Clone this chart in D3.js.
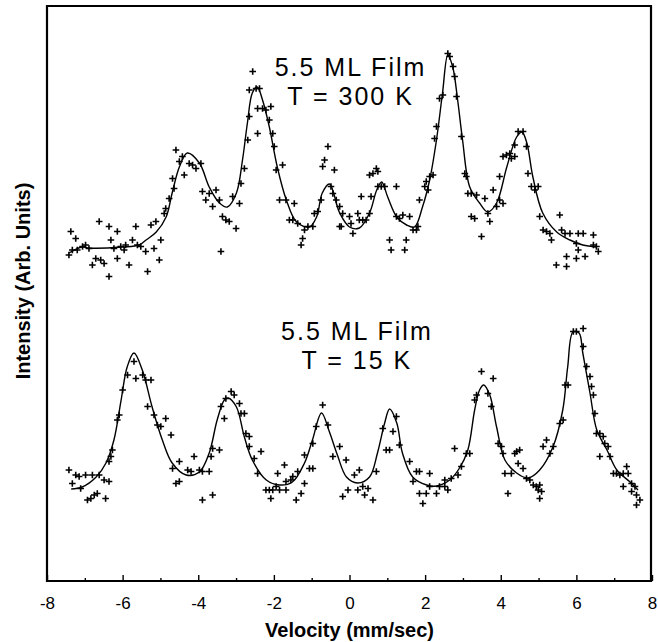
<!DOCTYPE html>
<html>
<head>
<meta charset="utf-8">
<script src="https://cdn.jsdelivr.net/npm/d3@7"></script>
<style>
  html, body { margin: 0; padding: 0; background: #fff; overflow: hidden; }
  svg { display: block; }
  svg text { font-family: "Liberation Sans", Arial, Helvetica, sans-serif; fill: #000; }
</style>
</head>
<body>
<div class="chart"></div>
<script>
// velocity ticks
let xTicksMajor = [-8, -6, -4, -2, 0, 2, 4, 6, 8];
let xTicksMinor = [-7, -5, -3, -1, 1, 3, 5, 7];

// spectrum labels
let upperLabel = ["5.5 ML Film", "T = 300 K"];
let lowerLabel = ["5.5 ML Film", "T = 15 K"];

// fitted curves, [velocity, intensity]
let fit300 = [[-7.42,0.656],[-7.07,0.668],[-6.89,0.666],[-6.01,0.668],[-5.56,0.672],[-5.38,0.682],[-5.11,0.698],
  [-4.85,0.728],[-4.69,0.776],[-4.50,0.828],[-4.29,0.856],[-3.97,0.836],[-3.71,0.788],[-3.44,0.756],[-3.23,0.748],
  [-2.99,0.776],[-2.83,0.842],[-2.70,0.916],[-2.57,0.976],[-2.44,0.988],[-2.30,0.962],[-2.12,0.908],[-1.91,0.828],
  [-1.67,0.762],[-1.40,0.718],[-1.06,0.708],[-0.87,0.728],[-0.72,0.776],[-0.53,0.794],[-0.26,0.736],[0.00,0.708],
  [0.26,0.706],[0.53,0.736],[0.72,0.782],[0.85,0.798],[1.01,0.768],[1.25,0.728],[1.51,0.712],[1.72,0.708],
  [1.93,0.748],[2.12,0.802],[2.30,0.882],[2.46,0.976],[2.60,1.052],[2.73,1.028],[2.86,0.962],[2.99,0.882],
  [3.18,0.788],[3.44,0.756],[3.66,0.738],[3.89,0.756],[4.16,0.828],[4.42,0.888],[4.56,0.898],[4.69,0.876],
  [4.85,0.808],[5.11,0.736],[5.48,0.698],[5.83,0.682],[6.17,0.672],[6.54,0.668]];

let fit15 = [[-7.36,0.184],[-7.07,0.188],[-6.70,0.208],[-6.44,0.236],[-6.23,0.282],[-6.04,0.362],[-5.88,0.428],
  [-5.70,0.456],[-5.48,0.422],[-5.22,0.348],[-4.95,0.282],[-4.69,0.236],[-4.32,0.212],[-3.97,0.218],[-3.71,0.256],
  [-3.50,0.322],[-3.31,0.362],[-3.21,0.366],[-2.99,0.348],[-2.78,0.288],[-2.57,0.242],[-2.20,0.202],[-1.85,0.192],
  [-1.51,0.198],[-1.19,0.236],[-0.98,0.282],[-0.74,0.336],[-0.53,0.298],[-0.32,0.252],[-0.08,0.208],[0.21,0.196],
  [0.53,0.208],[0.74,0.256],[0.93,0.316],[1.06,0.344],[1.25,0.316],[1.40,0.256],[1.67,0.208],[2.04,0.192],
  [2.30,0.190],[2.65,0.202],[2.91,0.226],[3.13,0.262],[3.31,0.342],[3.44,0.382],[3.55,0.392],[3.71,0.372],
  [3.89,0.308],[4.11,0.242],[4.42,0.216],[4.72,0.206],[5.03,0.222],[5.38,0.268],[5.64,0.342],[5.77,0.428],
  [5.91,0.498],[6.07,0.496],[6.17,0.456],[6.36,0.376],[6.54,0.302],[6.81,0.262],[7.07,0.222],[7.42,0.198],[7.63,0.182]];

// measured counts, [velocity, intensity]
let data300 = [[-7.37,0.699],[-7.24,0.685],[-7.42,0.652],[-7.33,0.662],[-7.20,0.662],[-7.06,0.669],[-6.98,0.672],
  [-6.89,0.665],[-6.80,0.632],[-6.71,0.645],[-6.62,0.719],[-6.58,0.642],[-6.49,0.635],[-6.36,0.709],[-6.36,0.609],
  [-6.31,0.682],[-6.23,0.665],[-6.14,0.699],[-6.14,0.645],[-6.05,0.669],[-5.96,0.662],[-5.92,0.672],[-5.83,0.632],
  [-5.74,0.682],[-5.65,0.709],[-5.61,0.672],[-5.52,0.669],[-5.39,0.659],[-5.34,0.619],[-5.25,0.712],[-5.17,0.665],
  [-5.12,0.719],[-5.03,0.642],[-4.99,0.682],[-4.90,0.735],[-4.86,0.745],[-4.77,0.765],[-4.68,0.805],[-4.64,0.785],
  [-4.59,0.862],[-4.50,0.839],[-4.42,0.849],[-4.37,0.812],[-4.24,0.835],[-4.15,0.832],[-4.06,0.825],[-3.93,0.835],
  [-3.89,0.779],[-3.80,0.762],[-3.71,0.775],[-3.62,0.749],[-3.53,0.782],[-3.44,0.762],[-3.40,0.659],[-3.36,0.729],
  [-3.27,0.722],[-3.18,0.719],[-3.09,0.769],[-3.00,0.705],[-2.91,0.755],[-2.87,0.795],[-2.78,0.825],[-2.69,0.882],
  [-2.65,0.929],[-2.56,1.019],[-2.65,0.982],[-2.47,0.985],[-2.38,0.985],[-2.43,0.945],[-2.43,0.895],[-2.30,0.945],
  [-2.21,0.942],[-2.12,0.922],[-2.08,0.949],[-2.03,0.895],[-1.99,0.869],[-1.94,0.822],[-1.85,0.762],[-1.77,0.832],
  [-1.68,0.762],[-1.59,0.722],[-1.46,0.755],[-1.50,0.722],[-1.37,0.715],[-1.28,0.672],[-1.24,0.685],[-1.19,0.702],
  [-1.10,0.709],[-0.97,0.709],[-0.93,0.735],[-0.84,0.739],[-0.75,0.762],[-0.71,0.829],[-0.66,0.842],[-0.57,0.869],
  [-0.40,0.822],[-0.49,0.789],[-0.44,0.775],[-0.35,0.762],[-0.26,0.709],
  [-0.26,0.749],[-0.18,0.735],[0.00,0.729],[0.04,0.715],[-0.22,0.709],[0.09,0.695],[0.22,0.735],[0.26,0.722],
  [0.35,0.722],[0.44,0.722],[0.53,0.735],[0.31,0.769],[0.57,0.769],[0.53,0.812],[0.62,0.815],[0.71,0.825],
  [0.75,0.819],[0.75,0.789],[0.84,0.789],[0.93,0.789],[1.06,0.682],[1.10,0.662],[1.24,0.789],[1.24,0.729],
  [1.32,0.725],[1.41,0.732],[1.50,0.682],[1.46,0.662],[1.59,0.729],[1.68,0.702],[1.77,0.702],[1.81,0.709],
  [1.85,0.762],[1.99,0.789],[2.03,0.799],[2.08,0.782],[2.12,0.809],[2.21,0.812],[2.30,0.909],[2.25,0.885],
  [2.38,0.965],[2.47,0.972],[2.60,1.055],[2.65,1.049],[2.74,1.029],[2.78,1.009],[2.83,0.969],[2.96,0.889],
  [3.05,0.815],[3.09,0.809],[3.13,0.775],[3.22,0.775],[3.36,0.772],[3.22,0.729],[3.31,0.725],[3.49,0.689],
  [3.58,0.765],[3.66,0.735],[3.71,0.719],[3.80,0.782],[3.89,0.749],[3.97,0.762],[4.06,0.755],[3.97,0.809],
  [4.06,0.849],[4.15,0.852],[4.24,0.855],[4.28,0.845],[4.37,0.849],[4.37,0.872],[4.46,0.899],[4.59,0.899],
  [4.68,0.869],[4.72,0.815],[4.81,0.789],[4.90,0.782],[4.99,0.789],[5.03,0.729],[5.12,0.702],[5.21,0.699],
  [5.30,0.695],[5.34,0.682],[5.56,0.732],[5.61,0.702],[5.70,0.695],[5.83,0.695],[6.05,0.695],[6.18,0.695],
  [6.45,0.692],[6.45,0.672],[6.53,0.669],[6.58,0.659],[6.00,0.675],[6.05,0.662],[5.74,0.649],[6.00,0.645],
  [6.23,0.649],[5.47,0.632],[5.74,0.629]];

let data15 = [[-7.42,0.222],[-7.33,0.195],[-7.24,0.212],[-7.15,0.209],[-6.98,0.212],[-6.80,0.212],[-6.62,0.212],
  [-6.49,0.202],[-6.36,0.199],[-7.11,0.185],[-6.93,0.162],[-6.84,0.165],[-6.75,0.172],[-6.67,0.175],[-6.45,0.165],
  [-6.36,0.239],[-6.31,0.249],[-6.27,0.262],[-6.14,0.322],[-6.09,0.332],[-6.00,0.382],[-5.87,0.412],[-5.70,0.439],
  [-5.65,0.405],[-5.47,0.412],[-5.39,0.402],[-5.25,0.402],[-5.34,0.349],[-5.17,0.332],[-5.08,0.312],[-4.99,0.309],
  [-4.86,0.325],[-4.72,0.292],[-4.68,0.225],[-4.59,0.195],[-4.50,0.199],[-4.50,0.239],[-4.28,0.222],[-4.11,0.249],
  [-4.19,0.219],[-3.97,0.222],[-3.89,0.219],[-3.71,0.219],[-3.89,0.162],[-3.62,0.172],[-3.66,0.249],[-3.62,0.265],
  [-3.44,0.262],[-3.40,0.349],[-3.31,0.325],[-3.27,0.365],[-3.13,0.379],[-3.05,0.372],[-2.91,0.355],[-2.87,0.335],
  [-2.78,0.335],[-2.74,0.295],[-2.65,0.289],[-2.65,0.269],[-2.52,0.245],[-2.34,0.259],[-2.43,0.215],[-2.21,0.182],
  [-2.12,0.182],[-2.03,0.182],[-1.94,0.189],[-1.85,0.182],[-1.68,0.182],[-2.08,0.165],[-1.90,0.215],[-1.72,0.232],
  [-1.68,0.199],[-1.55,0.202],[-1.50,0.209],[-1.37,0.219],[-1.41,0.162],[-1.28,0.175],[-1.19,0.195],[-1.19,0.252],
  [-1.06,0.225],[-0.97,0.225],[-0.97,0.275],[-0.88,0.309],[-0.71,0.352],[-0.57,0.312],[-0.44,0.249],[-0.26,0.269],
  [-0.09,0.242],[-0.18,0.169],[-0.04,0.182],[0.13,0.212],[0.26,0.222],[0.22,0.182],[0.35,0.189],[0.40,0.172],
  [0.49,0.185],[0.62,0.162],[0.71,0.219],[0.88,0.305],[0.97,0.262],[1.06,0.262],[1.15,0.299],[1.24,0.329],
  [1.32,0.272],[1.59,0.239],[1.68,0.199],[1.77,0.219],[1.85,0.219],[2.12,0.215],[1.85,0.175],[1.94,0.155],
  [2.03,0.175],[2.12,0.189],[2.30,0.175],[2.38,0.189],[2.52,0.189],[2.60,0.182],[2.52,0.202],[2.69,0.205],
  [2.78,0.265],[2.87,0.212],[2.96,0.229],[3.09,0.255],[3.18,0.255],[3.31,0.362],[3.36,0.372],[3.49,0.419],
  [3.66,0.375],[3.80,0.405],[3.75,0.349],[3.93,0.275],[4.02,0.269],[4.06,0.255],[4.11,0.215],[4.19,0.175],
  [4.28,0.215],[4.37,0.255],[4.42,0.259],[4.50,0.262],[4.46,0.235],[4.59,0.225],[4.68,0.205],[4.77,0.202],
  [4.86,0.192],[4.94,0.189],[5.03,0.192],[4.99,0.182],[5.08,0.179],[5.03,0.165],[5.12,0.269],[5.21,0.282],
  [5.30,0.255],[5.39,0.269],[5.56,0.315],[5.65,0.322],[5.70,0.392],[5.78,0.392],[5.92,0.499],[6.00,0.499],
  [6.18,0.505],[6.18,0.469],[6.27,0.429],[6.36,0.409],[6.40,0.389],[6.45,0.372],[6.49,0.335],[6.53,0.295],
  [6.62,0.295],[6.71,0.289],[6.75,0.275],[6.84,0.269],[6.62,0.249],[6.89,0.249],[6.98,0.215],[7.06,0.215],
  [7.15,0.212],[7.24,0.215],[7.33,0.229],[7.37,0.215],[7.24,0.189],[7.46,0.195],[7.55,0.189],[7.46,0.179],
  [7.59,0.172],[7.59,0.152],[7.68,0.162]];

let margin = { top: 6, right: 6, bottom: 61, left: 47 },
    W = 658, H = 642,
    width = W - margin.left - margin.right,
    height = H - margin.top - margin.bottom;

let x = d3.scaleLinear().domain([-8, 8]).range([0, width]);
let y = d3.scaleLinear().domain([0, 1.15]).range([height, 0]);

let svg = d3.select(".chart").append("svg")
    .attr("width", W)
    .attr("height", H);

let g = svg.append("g")
    .attr("transform", "translate(" + margin.left + "," + margin.top + ")");

// frame drawn as one closed path
g.append("path")
    .attr("d", "M" + x(-8) + "," + y(1.15) + "H" + (x(8) - 1) + "V" + y(0) + "H" + x(-8) + "Z")
    .attr("fill", "none")
    .attr("stroke", "#000")
    .attr("stroke-width", 2.2);

// ticks point inward
let xAxis = d3.axisBottom(x).tickValues(xTicksMajor).tickSize(-6).tickPadding(16)
    .tickFormat(d => d < 0 ? "-" + Math.abs(d) : d);
let ax = g.append("g")
    .attr("transform", "translate(0," + height + ")")
    .call(xAxis);
ax.select(".domain").remove();
ax.selectAll(".tick line").attr("stroke-width", 1.4);
ax.selectAll(".tick text")
    .style("font-size", "17px")
    .style("font-family", "'Liberation Sans', Arial, sans-serif");

let axMinor = g.append("g")
    .attr("transform", "translate(0," + height + ")")
    .call(d3.axisBottom(x).tickValues(xTicksMinor).tickSize(-3).tickFormat(""));
axMinor.select(".domain").remove();
axMinor.selectAll(".tick line").attr("stroke-width", 1.4);

// axis titles
svg.append("text")
    .attr("x", margin.left + x(0))
    .attr("y", 637)
    .attr("text-anchor", "middle")
    .style("font-size", "20px")
    .style("font-weight", "bold")
    .text("Velocity (mm/sec)");

svg.append("text")
    .attr("transform", "translate(30," + 281 + ") rotate(-90)")
    .attr("text-anchor", "middle")
    .style("font-size", "20px")
    .style("font-weight", "bold")
    .text("Intensity (Arb. Units)");

let line = d3.line()
    .x(d => x(d[0]))
    .y(d => y(d[1]))
    .curve(d3.curveCatmullRom.alpha(0.5));

[fit300, fit15].forEach(fit => {
    g.append("path")
        .datum(fit)
        .attr("d", line)
        .attr("fill", "none")
        .attr("stroke", "#000")
        .attr("stroke-width", 1.4);
});

let cross = 3.3;
[data300, data15].forEach(pts => {
    g.append("g").selectAll("path")
        .data(pts)
        .enter().append("path")
        .attr("d", d => {
            let cx = x(d[0]), cy = y(d[1]);
            return "M" + (cx - cross) + "," + cy + "H" + (cx + cross) +
                   "M" + cx + "," + (cy - cross) + "V" + (cy + cross);
        })
        .attr("stroke", "#000")
        .attr("stroke-width", 1.6);
});

// labels
function addLabel(lines, vx, yBase) {
    lines.forEach((t, i) => {
        g.append("text")
            .attr("x", x(vx) + 1)
            .attr("y", y(yBase) + i * 29)
            .attr("text-anchor", "middle")
            .style("font-size", "25px")
            .style("letter-spacing", "2px")
            .text(t);
    });
}
addLabel(upperLabel, 0.0, 1.011);
addLabel(lowerLabel, 0.17, 0.482);
</script>
</body>
</html>
